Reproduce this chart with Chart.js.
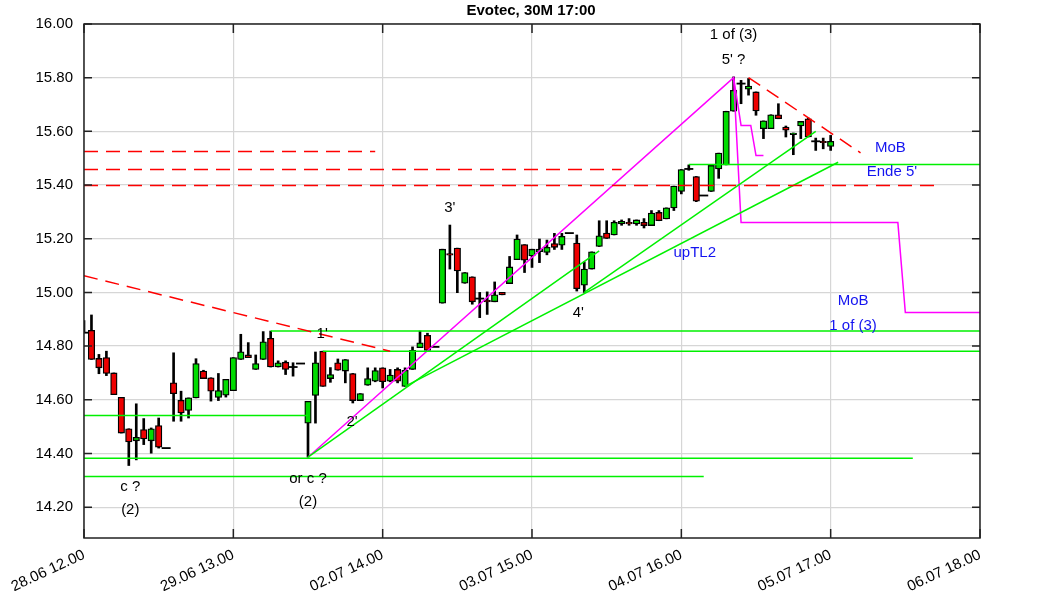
<!DOCTYPE html>
<html>
<head>
<meta charset="utf-8">
<script src="https://cdn.jsdelivr.net/npm/chart.js@4.4.1/dist/chart.umd.min.js"></script>
<style>
  html, body { margin: 0; padding: 0; background: #fff; }
</style>
</head>
<body>
<canvas id="chart" width="1063" height="591"></canvas>
<script>
// 30M candles, one slot per bar (index = slot)
const opens = [
  14.850, 14.859, 14.754, 14.757, 14.700, 14.609, 14.492, 14.447, 14.489, 14.447,
  14.504, 14.420, 14.663, 14.598, 14.560, 14.607, 14.707, 14.682, 14.609, 14.617,
  14.634, 14.750, 14.767, 14.713, 14.750, 14.829, 14.722, 14.740, 14.722, 14.735,
  14.513, 14.616, 14.781, 14.679, 14.738, 14.707, 14.698, 14.597, 14.654, 14.669,
  14.719, 14.669, 14.713, 14.650, 14.713, 14.794, 14.840, 14.797, 14.960, 15.145,
  15.165, 15.034, 15.058, 14.977, 14.971, 14.965, 15.000, 15.033, 15.122, 15.178,
  15.136, 15.152, 15.149, 15.182, 15.176, 15.221, 15.184, 15.027, 15.087, 15.171,
  15.221, 15.214, 15.255, 15.261, 15.255, 15.261, 15.249, 15.298, 15.274, 15.315,
  15.376, 15.460, 15.432, 15.361, 15.376, 15.460, 15.475, 15.675, 15.778, 15.757,
  15.747, 15.610, 15.610, 15.662, 15.616, 15.588, 15.620, 15.647, 15.563, 15.563,
  15.544
];
const closes = [
  14.850, 14.750, 14.719, 14.698, 14.619, 14.476, 14.443, 14.460, 14.454, 14.492,
  14.423, 14.420, 14.623, 14.551, 14.607, 14.735, 14.679, 14.632, 14.634, 14.676,
  14.757, 14.779, 14.757, 14.735, 14.816, 14.722, 14.738, 14.713, 14.722, 14.735,
  14.594, 14.738, 14.650, 14.694, 14.710, 14.750, 14.597, 14.623, 14.679, 14.709,
  14.667, 14.692, 14.669, 14.710, 14.784, 14.812, 14.784, 14.797, 15.161, 15.139,
  15.080, 15.074, 14.965, 14.977, 14.965, 14.991, 14.991, 15.095, 15.199, 15.120,
  15.161, 15.161, 15.168, 15.168, 15.209, 15.221, 15.014, 15.087, 15.151, 15.211,
  15.201, 15.261, 15.265, 15.255, 15.270, 15.249, 15.296, 15.267, 15.315, 15.396,
  15.458, 15.460, 15.340, 15.361, 15.473, 15.519, 15.675, 15.753, 15.778, 15.769,
  15.676, 15.639, 15.662, 15.647, 15.604, 15.594, 15.637, 15.579, 15.563, 15.558,
  15.563
];
const highs = [
  14.895, 14.916, 14.769, 14.781, 14.700, 14.609, 14.492, 14.585, 14.530, 14.495,
  14.532, 14.420, 14.775, 14.632, 14.607, 14.753, 14.710, 14.682, 14.698, 14.676,
  14.757, 14.844, 14.813, 14.767, 14.854, 14.856, 14.745, 14.745, 14.738, 14.735,
  14.594, 14.778, 14.781, 14.720, 14.752, 14.750, 14.698, 14.623, 14.719, 14.719,
  14.719, 14.713, 14.719, 14.719, 14.797, 14.856, 14.848, 14.797, 15.161, 15.251,
  15.165, 15.074, 15.058, 15.000, 15.002, 15.039, 15.000, 15.134, 15.214, 15.178,
  15.161, 15.199, 15.195, 15.220, 15.220, 15.221, 15.214, 15.114, 15.151, 15.267,
  15.267, 15.267, 15.270, 15.275, 15.270, 15.275, 15.305, 15.305, 15.315, 15.396,
  15.458, 15.475, 15.432, 15.361, 15.473, 15.519, 15.675, 15.803, 15.790, 15.797,
  15.747, 15.639, 15.662, 15.703, 15.620, 15.594, 15.637, 15.650, 15.575, 15.575,
  15.585
];
const lows = [
  14.850, 14.750, 14.697, 14.690, 14.619, 14.476, 14.355, 14.376, 14.433, 14.401,
  14.420, 14.420, 14.520, 14.520, 14.532, 14.607, 14.679, 14.595, 14.597, 14.610,
  14.634, 14.750, 14.757, 14.713, 14.750, 14.722, 14.722, 14.694, 14.688, 14.735,
  14.386, 14.513, 14.650, 14.665, 14.710, 14.663, 14.588, 14.597, 14.654, 14.667,
  14.644, 14.667, 14.663, 14.650, 14.713, 14.794, 14.781, 14.797, 14.960, 15.087,
  14.999, 15.034, 14.956, 14.906, 14.918, 14.965, 14.991, 15.033, 15.122, 15.074,
  15.093, 15.111, 15.140, 15.160, 15.160, 15.221, 15.005, 15.000, 15.087, 15.171,
  15.201, 15.214, 15.250, 15.250, 15.250, 15.240, 15.249, 15.267, 15.274, 15.305,
  15.367, 15.455, 15.338, 15.361, 15.376, 15.425, 15.475, 15.675, 15.703, 15.735,
  15.660, 15.573, 15.610, 15.647, 15.579, 15.513, 15.573, 15.579, 15.529, 15.535,
  15.529
];

const xTicks = [0, 20, 40, 60, 80, 100, 120];
const xLabels = ["28.06 12.00", "29.06 13.00", "02.07 14.00", "03.07 15.00", "04.07 16.00", "05.07 17.00", "06.07 18.00"];
const yTicks = [14.2, 14.4, 14.6, 14.8, 15.0, 15.2, 15.4, 15.6, 15.8, 16.0];

// drawn lines: [slot, price] pairs
const redLines = [
  [[0, 15.525], [39, 15.525]],
  [[0, 15.458], [72, 15.458]],
  [[0, 15.398], [114, 15.398]],
  [[0, 15.062], [41, 14.781]],
  [[89, 15.80], [104, 15.52]]
];
const greenLines = [
  [[25, 14.856], [120, 14.856]],
  [[32, 14.781], [120, 14.781]],
  [[0, 14.541], [30, 14.541]],
  [[0, 14.382], [111, 14.382]],
  [[0, 14.314], [83, 14.314]],
  [[81, 15.477], [120, 15.477]],
  [[30, 14.386], [69, 15.155]],
  [[43, 14.650], [101, 15.485]],
  [[67, 15.000], [98, 15.600]]
];
const magentaLines = [
  [[30, 14.386], [87, 15.80], [88, 15.26], [109, 15.26], [110, 14.925], [120, 14.925]],
  [[87, 15.80], [88, 15.622], [89.3, 15.622], [90, 15.51], [91, 15.51]]
];

const notes = [
  [87, 15.959, "1 of (3)", "#000"],
  [87, 15.865, "5' ?", "#000"],
  [49, 15.316, "3'", "#000"],
  [31.9, 14.845, "1'", "#000"],
  [35.9, 14.516, "2'", "#000"],
  [66.2, 14.923, "4'", "#000"],
  [6.2, 14.277, "c ?", "#000"],
  [6.2, 14.191, "(2)", "#000"],
  [30, 14.307, "or c ?", "#000"],
  [30, 14.221, "(2)", "#000"],
  [81.8, 15.148, "upTL2", "#1414f0"],
  [108, 15.540, "MoB", "#1414f0"],
  [108.2, 15.450, "Ende 5'", "#1414f0"],
  [103, 14.968, "MoB", "#1414f0"],
  [103, 14.875, "1 of (3)", "#1414f0"]
];

const green = '#00dc00';
const red = '#ee0000';
const font = '"Liberation Sans", Arial, sans-serif';

var wickData = [], bodyData = [], dojiData = [];
opens.forEach(function(o, i) {
  if (highs[i] > lows[i]) wickData.push({x: i, y: [lows[i], highs[i]]});
  if (o === closes[i]) dojiData.push({x: i, y: o});
  else bodyData.push({x: i, y: [o, closes[i]]});
});

function lineSet(pts, color, dash) {
  return {
    type: 'line',
    data: pts.map(function(p) { return {x: p[0], y: p[1]}; }),
    borderColor: color,
    borderWidth: 1.5,
    borderDash: dash || [],
    pointRadius: 0,
    fill: false,
    order: 0
  };
}

var datasets = [
  { type: 'bar', data: wickData, backgroundColor: '#000', barThickness: 2, grouped: false, order: 3 },
  { type: 'bar', data: bodyData, grouped: false, barThickness: 6.5, borderColor: '#000', borderWidth: 1.3,
    borderSkipped: false, order: 2,
    backgroundColor: function(c) { return c.raw && c.raw.y[1] > c.raw.y[0] ? green : red; } },
  { type: 'line', data: dojiData, showLine: false, pointStyle: 'line', pointRadius: 4.5,
    pointBorderColor: '#000', pointBorderWidth: 1.8, order: 1 }
];
redLines.forEach(function(l) { datasets.push(lineSet(l, '#ff0000', [14, 8])); });
greenLines.forEach(function(l) { datasets.push(lineSet(l, '#00f000')); });
magentaLines.forEach(function(l) { datasets.push(lineSet(l, '#ff00ff')); });

const overlay = {
  id: 'overlay',
  afterDraw: function(chart) {
    var ctx = chart.ctx, a = chart.chartArea, sx = chart.scales.x, sy = chart.scales.y;
    ctx.save();
    ctx.strokeStyle = '#222';
    ctx.lineWidth = 1.5;
    ctx.strokeRect(a.left, a.top, a.right - a.left, a.bottom - a.top);
    ctx.beginPath();
    yTicks.forEach(function(v) {
      var py = sy.getPixelForValue(v);
      ctx.moveTo(a.left, py); ctx.lineTo(a.left + 8, py);
      ctx.moveTo(a.right, py); ctx.lineTo(a.right - 8, py);
    });
    xTicks.forEach(function(v) {
      var px = sx.getPixelForValue(v);
      ctx.moveTo(px, a.bottom); ctx.lineTo(px, a.bottom - 9);
      ctx.moveTo(px, a.top); ctx.lineTo(px, a.top + 9);
    });
    ctx.stroke();

    ctx.font = '15px ' + font;
    ctx.textAlign = 'center';
    ctx.textBaseline = 'middle';
    notes.forEach(function(n) {
      ctx.fillStyle = n[3];
      ctx.fillText(n[2], sx.getPixelForValue(n[0]), sy.getPixelForValue(n[1]));
    });

    ctx.fillStyle = '#000';
    ctx.font = 'bold 15px ' + font;
    ctx.fillText('Evotec, 30M 17:00', 531, 11);
    ctx.restore();
  }
};

new Chart(document.getElementById('chart'), {
  type: 'bar',
  data: { datasets: datasets },
  plugins: [overlay],
  options: {
    responsive: false,
    animation: false,
    devicePixelRatio: 1,
    layout: { padding: { top: 24, right: 83, left: 0, bottom: 0 } },
    plugins: { legend: { display: false }, tooltip: { enabled: false }, title: { display: false } },
    scales: {
      x: {
        type: 'linear', min: 0, max: 120, offset: false,
        grid: { color: '#d6d6d6', lineWidth: 1.2, drawTicks: false, offset: false },
        border: { display: false },
        afterBuildTicks: function(s) { s.ticks = xTicks.map(function(v) { return {value: v}; }); },
        afterFit: function(s) { s.height = 53; s.paddingLeft = 0; s.paddingRight = 0; },
        ticks: {
          minRotation: 25, maxRotation: 25, padding: 8, color: '#000',
          font: { family: font, size: 15 },
          callback: function(v, i) { return xLabels[i]; }
        }
      },
      y: {
        type: 'linear', min: 14.085, max: 16.0,
        grid: { color: '#d6d6d6', lineWidth: 1.2, drawTicks: false },
        border: { display: false },
        afterBuildTicks: function(s) { s.ticks = yTicks.map(function(v) { return {value: v}; }); },
        afterFit: function(s) { s.width = 84; },
        ticks: {
          padding: 11, color: '#000',
          font: { family: font, size: 15 },
          callback: function(v) { return Number(v).toFixed(2); }
        }
      }
    }
  }
});
</script>
</body>
</html>
